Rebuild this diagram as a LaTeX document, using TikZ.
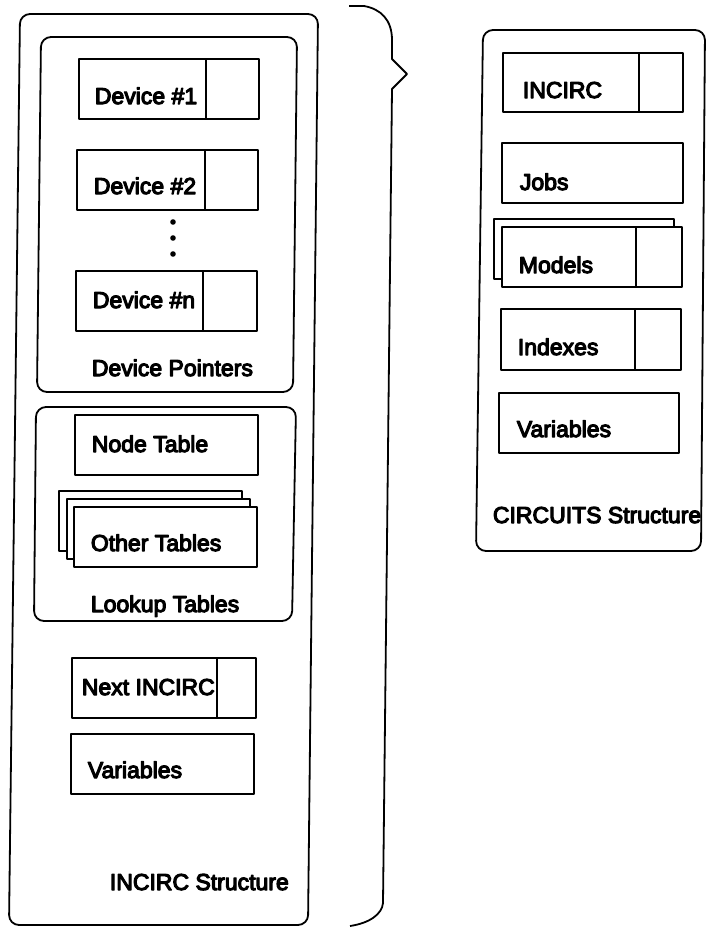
\documentclass[tikz,border=0pt]{standalone}
\usepackage{fontspec}
\setmainfont{Liberation Sans}
\newfontfamily\heavysans[FakeBold=5]{Liberation Sans}
\begin{document}
\begin{tikzpicture}[x=1pt,y=-1pt,line width=1.8pt,line join=round,
  frame/.style={draw,rounded corners=10pt},
  cell/.style={draw,fill=white},
  lbl/.style={inner sep=0pt,anchor=base west,font=\heavysans\fontsize{23}{27}\selectfont}]
\useasboundingbox (0,0) rectangle (708,929);

% ---------- INCIRC structure (left) ----------
\draw[frame] (20,14) -- (318,14) -- (308,925) -- (9,925) -- cycle;

% brace joining the two structures
\draw (349,6) -- (364,6) .. controls (381,9) and (392,20) .. (392,40)
  -- (392,59) -- (407,74) -- (392,89) -- (383,903)
  .. controls (382,914) and (370,923) .. (350,926);

% device pointers group
\draw[frame] (41,37) -- (297,37) -- (293,392) -- (37,392) -- cycle;
\draw[cell] (79,59) rectangle (259,119) (206,59) -- (206,119);
\node[lbl] (dev1) at (94,104) {Device \#1};
\draw[cell] (77,150) rectangle (258,210) (205,150) -- (205,210);
\node[lbl] (dev2) at (93,194) {Device \#2};
\fill (173,222) circle (2.8pt) (173,238) circle (2.8pt) (173,254) circle (2.8pt);
\draw[cell] (76,271) rectangle (257,331) (203,271) -- (203,331);
\node[lbl] (devn) at (92,308) {Device \#n};
\node[lbl] (devptr) at (91,376) {Device Pointers};

% lookup tables group
\draw[frame] (36,407) -- (296,407) -- (292,621) -- (34,621) -- cycle;
\draw[cell] (75,415) rectangle (258,475);
\node[lbl] (nodetab) at (91,452) {Node Table};
\draw[cell] (59,491) rectangle (242,551);
\draw[cell] (67,499) rectangle (250,559);
\draw[cell] (74,507) rectangle (257,567);
\node[lbl] (othtab) at (90,551) {Other Tables};
\node[lbl] (lookup) at (90,612) {Lookup Tables};

% pointer to next INCIRC and variables
\draw[cell] (72,658) rectangle (256,718) (217,658) -- (217,718);
\node[lbl] (nextinc) at (81,695) {Next INCIRC};
\draw[cell] (71,734) rectangle (254,794);
\node[lbl] (varl) at (87,778) {Variables};
\node[lbl] (incstr) at (109,890) {INCIRC Structure};

% ---------- CIRCUITS structure (right) ----------
\draw[frame] (483,30) -- (705,30) -- (701,551) -- (476,551) -- cycle;
\draw[cell] (503,53) rectangle (683,112) (639,53) -- (639,112);
\node[lbl] (incirc) at (522,98) {INCIRC};
\draw[cell] (502,143) rectangle (683,203);
\node[lbl] (jobs) at (519,190) {Jobs};
\draw[cell] (494,219) rectangle (674,279);
\draw[cell] (502,227) rectangle (682,287) (636,227) -- (636,287);
\node[lbl] (models) at (518,273) {Models};
\draw[cell] (501,309) rectangle (681,370) (635,309) -- (635,370);
\node[lbl] (indexes) at (517,355) {Indexes};
\draw[cell] (499,393) rectangle (679,453);
\node[lbl] (varr) at (516,437) {Variables};
\node[lbl] (cirstr) at (492,523) {CIRCUITS Structure};
\end{tikzpicture}
\end{document}
